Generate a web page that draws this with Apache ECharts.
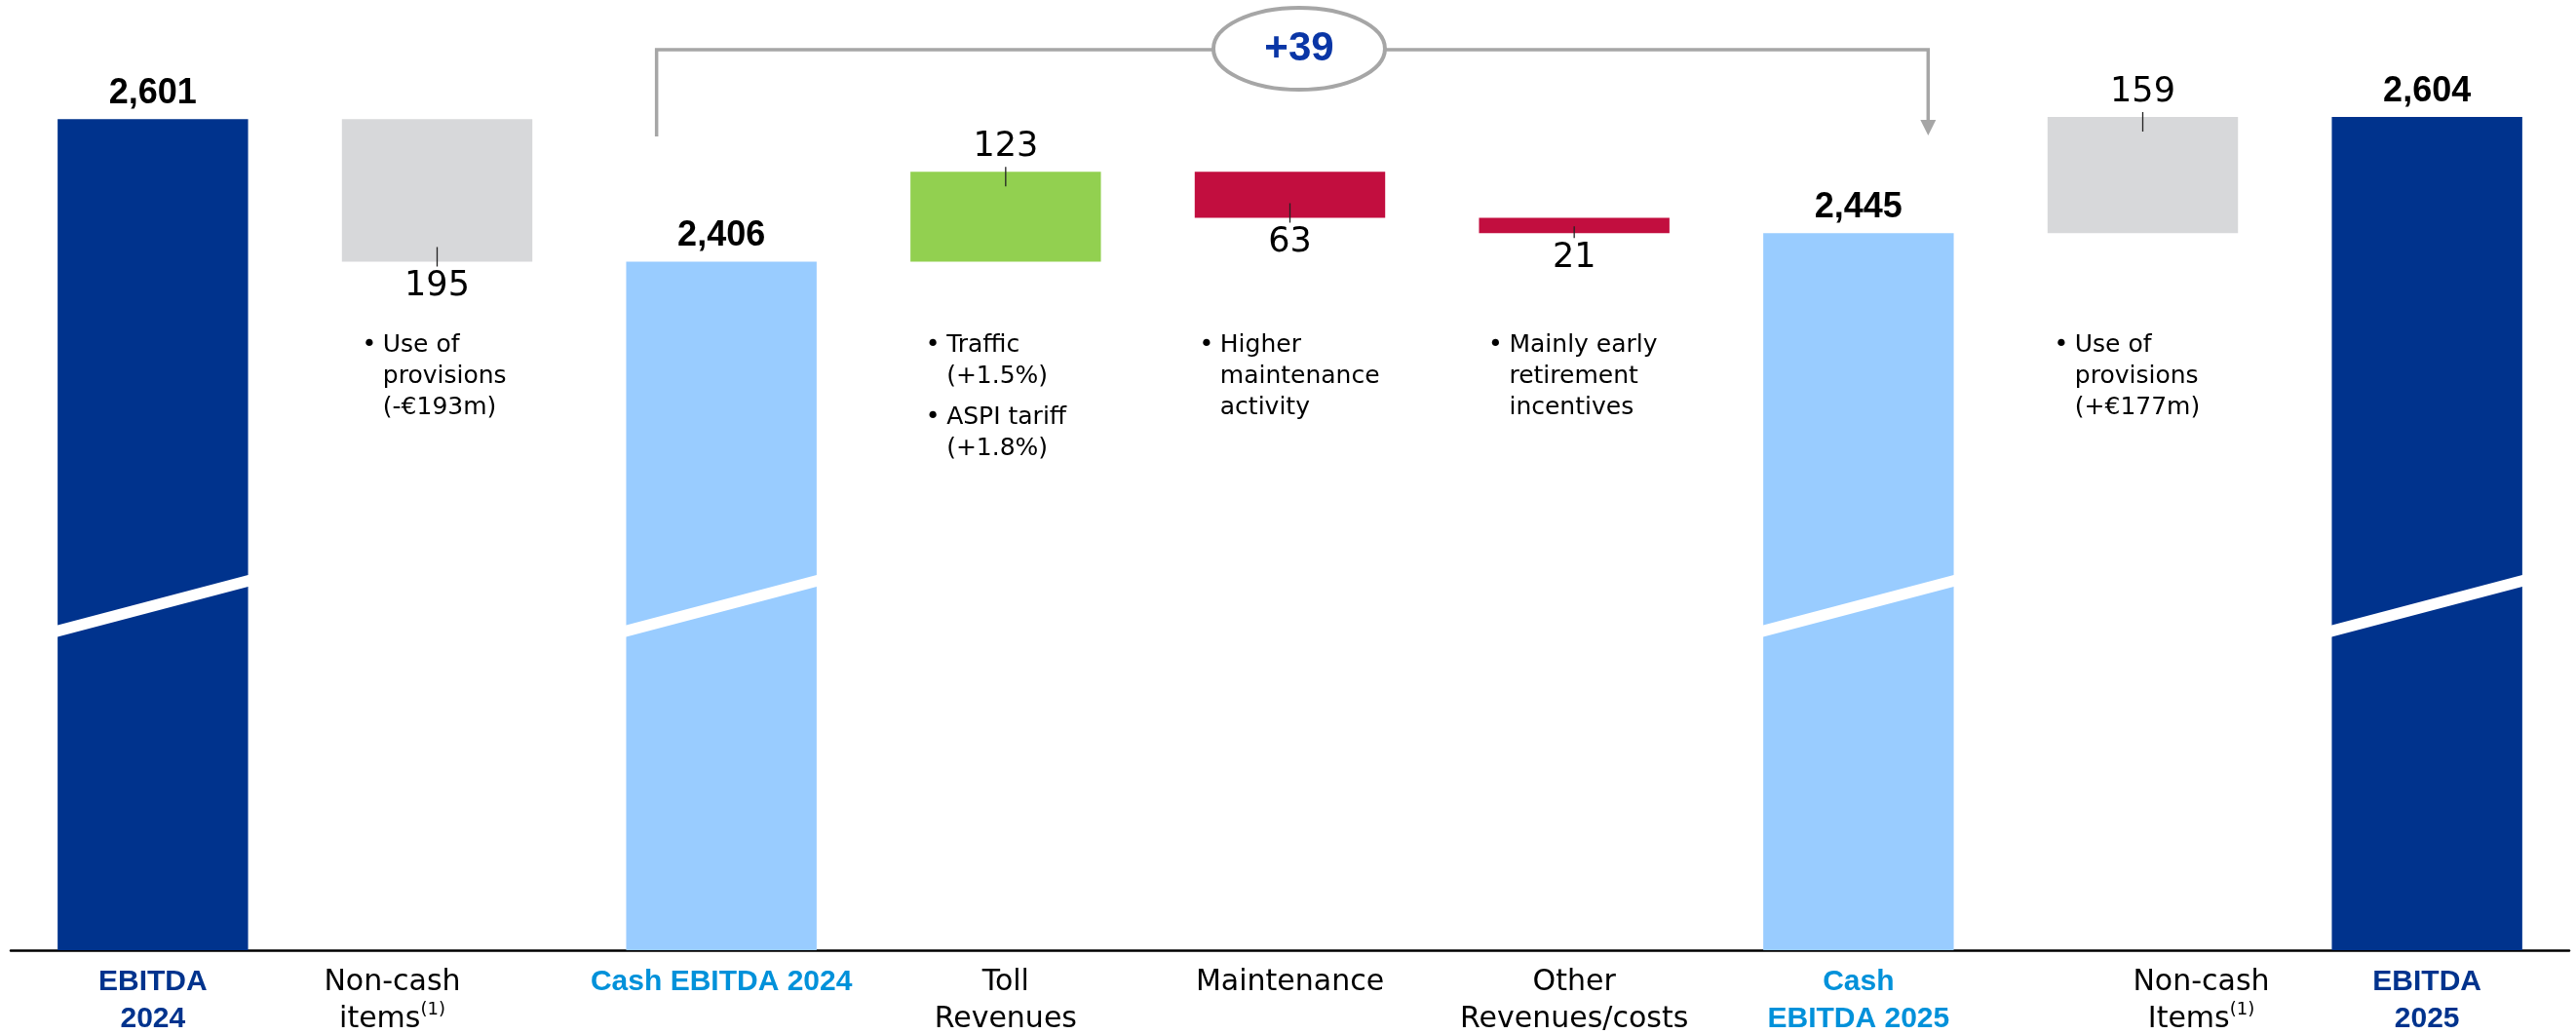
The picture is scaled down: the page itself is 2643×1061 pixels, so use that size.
<!DOCTYPE html>
<html><head><meta charset="utf-8">
<script src="https://cdn.jsdelivr.net/npm/echarts@6/dist/echarts.min.js"></script>
<style>html,body{margin:0;padding:0;background:#fff}#chart{width:2643px;height:1061px}</style>
</head><body><div id="chart"></div>
<script>
// ---------- DATA ----------
const categories = ['EBITDA\n2024', 'Non-cash\nitems(1)', 'Cash EBITDA 2024', 'Toll\nRevenues', 'Maintenance', 'Other\nRevenues/costs', 'Cash\nEBITDA 2025', 'Non-cash\nItems(1)', 'EBITDA\n2025'];
const kinds = ['ebitda', 'noncash', 'cash', 'delta', 'delta', 'delta', 'cash', 'noncash', 'ebitda'];
const totals = [2601, null, 2406, null, null, null, 2445, null, 2604];
const changes = [null, -195, null, 123, -63, -21, null, 159, null];
const notes = [
  [],
  [['Use of', 'provisions', '(-€193m)']],
  [],
  [['Traffic', '(+1.5%)'], ['ASPI tariff', '(+1.8%)']],
  [['Higher', 'maintenance', 'activity']],
  [['Mainly early', 'retirement', 'incentives']],
  [],
  [['Use of', 'provisions', '(+€177m)']],
  []
];
const bridgeFrom = 2, bridgeTo = 6;

// ---------- LAYOUT / STYLE ----------
const Y_MIN = 1464, Y_MAX = 2764;
const BAR_RATIO = 0.67;
const BREAK_VALUE = 1935;
const labelShift = [0, -46, 0, 0, 0, 0, 0, 60, 0];
const noteDx = [0, 28, 0, 23, 12, 17, 0, 14, 0];
const C = {
  navy: '#00338D', light: '#99CCFF', grey: '#D7D8DA', green: '#92D050', red: '#C20E3F',
  cashTxt: '#0091DA', bracket: '#A6A6A6', plus: '#0A36A6'
};
const REG = "'DejaVu Sans', sans-serif";
const BOLD = "'Liberation Sans', Arial, sans-serif";

// ---------- WATERFALL BUILD ----------
const bases = [], heights = [], colors = [], labelPos = [], labelTxt = [], edges = [];
let level = 0;
categories.forEach((c, i) => {
  if (totals[i] != null) {
    level = totals[i];
    bases.push(0); heights.push(totals[i]);
    colors.push(kinds[i] === 'ebitda' ? C.navy : C.light);
    labelPos.push('top');
    labelTxt.push(totals[i].toLocaleString('en-US'));
  } else {
    const start = level, end = level + changes[i];
    bases.push(Math.min(start, end)); heights.push(Math.abs(changes[i]));
    colors.push(kinds[i] === 'noncash' ? C.grey : (changes[i] > 0 ? C.green : C.red));
    const pos = changes[i] > 0 ? 'top' : 'bottom';
    labelPos.push(pos);
    labelTxt.push(Math.abs(changes[i]).toLocaleString('en-US'));
    edges.push([i, pos === 'top' ? Math.max(start, end) : Math.min(start, end), pos === 'top' ? 1 : -1, Math.abs(changes[i])]);
    level = end;
  }
});

// ---------- AXIS LABEL RICH TEXT ----------
const rich = {
  eb: { color: C.navy, fontFamily: BOLD, fontWeight: 'bold', fontSize: 30, lineHeight: 38 },
  cb: { color: C.cashTxt, fontFamily: BOLD, fontWeight: 'bold', fontSize: 30, lineHeight: 38 },
  rg: { color: '#000', fontFamily: REG, fontSize: 30, lineHeight: 38 },
  sup: { color: '#000', fontFamily: REG, fontSize: 18, lineHeight: 24, verticalAlign: 'top' }
};
const axisLabels = categories.map((value, idx) => {
  const k = kinds[idx];
  const base = k === 'ebitda' ? 'eb' : (k === 'cash' ? 'cb' : 'rg');
  const shift = labelShift[idx];
  const padL = shift > 0 ? 2 * shift : 0, padR = shift < 0 ? -2 * shift : 0;
  return value.split('\n').map(line => {
    const parts = line.split('(1)');
    const toks = [];
    parts.forEach((p, j) => {
      if (p) toks.push([base, p]);
      if (j < parts.length - 1) toks.push(['sup', '(1)']);
    });
    return toks.map((t, j) => {
      let name = t[0];
      const L = j === 0 ? padL : 0, R = j === toks.length - 1 ? padR : 0;
      if (L || R) {
        name = t[0] + '_' + L + '_' + R;
        rich[name] = Object.assign({}, rich[t[0]], { padding: [0, R, 0, L] });
      }
      return '{' + name + '|' + t[1] + '}';
    }).join('');
  }).join('\n');
});

// ---------- CHART ----------
const chart = echarts.init(document.getElementById('chart'), null, { renderer: 'canvas' });

const valueData = heights.map((h, i) => ({
  value: h,
  itemStyle: { color: colors[i] },
  label: totals[i] != null
    ? { position: 'top', fontFamily: BOLD, fontWeight: 'bold', fontSize: 36, color: '#000' }
    : { position: labelPos[i], fontFamily: REG, fontSize: 35, color: '#000' }
}));

const option = {
  animation: false,
  backgroundColor: '#fff',
  grid: { left: 11, right: 7, top: 0, bottom: 86, containLabel: false },
  xAxis: {
    type: 'category',
    data: categories,
    axisTick: { show: false },
    axisLine: { lineStyle: { color: '#000', width: 2.5 } },
    axisLabel: {
      interval: 0, margin: 14,
      formatter: (v, idx) => axisLabels[idx],
      rich: rich
    }
  },
  yAxis: { type: 'value', min: Y_MIN, max: Y_MAX, show: false, splitLine: { show: false } },
  series: [
    {
      name: 'base', type: 'bar', stack: 'wf', barWidth: (BAR_RATIO * 100) + '%', silent: true,
      itemStyle: { color: 'transparent' }, data: bases
    },
    {
      name: 'value', type: 'bar', stack: 'wf', barWidth: (BAR_RATIO * 100) + '%',
      label: { show: true, distance: 8, formatter: p => labelTxt[p.dataIndex] },
      data: valueData
    },
    {
      name: 'breaks', type: 'custom', silent: true, z: 5,
      data: totals.map((t, i) => t != null ? [i, BREAK_VALUE] : null).filter(d => d),
      renderItem: (params, api) => {
        const p = api.coord([api.value(0), api.value(1)]);
        const half = api.size([1, 0])[0] * BAR_RATIO / 2 + 1;
        const rise = 26, th = 6;
        return {
          type: 'polygon',
          shape: { points: [
            [p[0] - half, p[1] + rise - th], [p[0] + half, p[1] - rise - th],
            [p[0] + half, p[1] - rise + th], [p[0] - half, p[1] + rise + th]
          ] },
          style: { fill: '#fff' }
        };
      }
    },
    {
      name: 'connectors', type: 'custom', silent: true, z: 6,
      data: edges,
      renderItem: (params, api) => {
        const p = api.coord([api.value(0), api.value(1)]);
        const dir = api.value(2);
        const hpx = Math.abs(api.size([0, api.value(3)])[1]);
        const inside = Math.min(15, hpx * 0.45);
        const y1 = dir > 0 ? p[1] - 5 : p[1] - inside;
        const y2 = dir > 0 ? p[1] + inside : p[1] + 5;
        return { type: 'line', shape: { x1: p[0], y1: y1, x2: p[0], y2: y2 }, style: { stroke: '#222', lineWidth: 1.3 } };
      }
    },
    {
      name: 'notes', type: 'custom', silent: true, z: 6,
      data: notes.map((n, i) => n.length ? [i, Y_MIN] : null).filter(d => d),
      renderItem: (params, api) => {
        const i = api.value(0);
        const c = api.coord([i, Y_MIN]);
        const band = api.size([1, 0])[0];
        const bx = c[0] - band * BAR_RATIO / 2 + noteDx[i];
        let y = params.coordSys.y + 354;
        const children = [];
        notes[i].forEach((b, bi) => {
          if (bi > 0) y += 10;
          children.push({ type: 'text', style: { text: '•', x: bx, y: y, align: 'center', verticalAlign: 'middle', fontFamily: REG, fontSize: 25, fill: '#000' } });
          b.forEach(line => {
            children.push({ type: 'text', style: { text: line, x: bx + 14, y: y, align: 'left', verticalAlign: 'middle', fontFamily: REG, fontSize: 25, fill: '#000' } });
            y += 32;
          });
        });
        return { type: 'group', children: children };
      }
    },
    {
      name: 'bracket', type: 'custom', silent: true, z: 7,
      encode: { x: 0, y: 1 },
      data: [[bridgeFrom, totals[bridgeFrom], bridgeTo, totals[bridgeTo]]],
      renderItem: (params, api) => {
        const band = api.size([1, 0])[0];
        const xL = api.coord([api.value(0), Y_MIN])[0] - band * 0.228;
        const xR = api.coord([api.value(2), Y_MIN])[0] + band * 0.245;
        const top = params.coordSys.y;
        const yLine = top + 51;
        const cx = (xL + xR) / 2 + 7, cy = top + 50;
        const diff = api.value(3) - api.value(1);
        const st = { stroke: C.bracket, lineWidth: 3.5, fill: null };
        return {
          type: 'group',
          children: [
            { type: 'polyline', shape: { points: [[xL, top + 140], [xL, yLine], [xR, yLine], [xR, top + 125]] }, style: st },
            { type: 'polygon', shape: { points: [[xR - 8, top + 123], [xR + 8, top + 123], [xR, top + 139]] }, style: { fill: C.bracket } },
            { type: 'ellipse', shape: { cx: cx, cy: cy, rx: 88, ry: 42 }, style: { fill: '#fff', stroke: C.bracket, lineWidth: 4 } },
            { type: 'text', style: { text: (diff >= 0 ? '+' : '') + diff, x: cx, y: cy, align: 'center', verticalAlign: 'middle', fontFamily: BOLD, fontWeight: 'bold', fontSize: 42, fill: C.plus } }
          ]
        };
      }
    }
  ]
};
chart.setOption(option);
</script>
</body></html>
